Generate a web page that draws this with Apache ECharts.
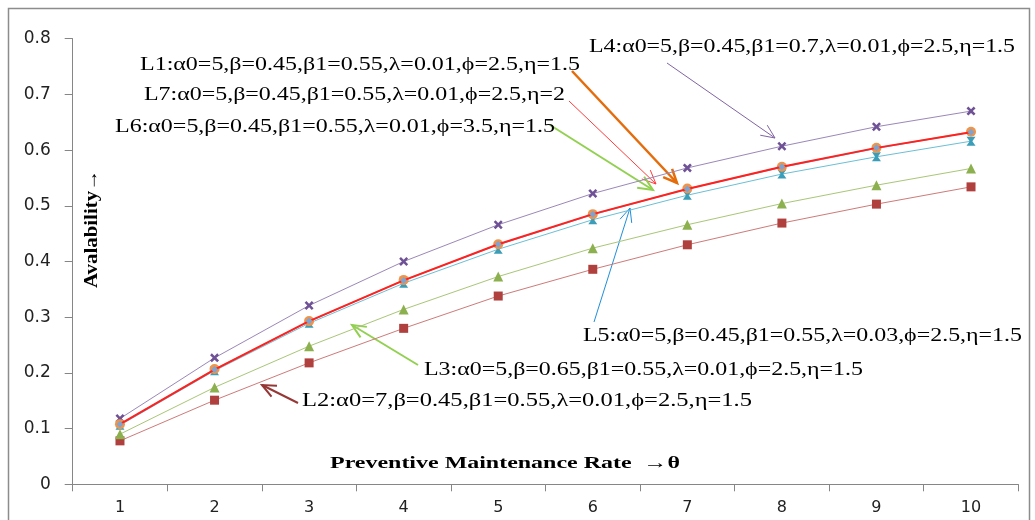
<!DOCTYPE html>
<html><head><meta charset="utf-8">
<script src="https://cdn.jsdelivr.net/npm/echarts@6/dist/echarts.min.js"></script>
<style>html,body{margin:0;padding:0;background:#fff}#c{width:1035px;height:520px}</style>
</head><body><div id="c"></div>
<script>
const categories = ['1','2','3','4','5','6','7','8','9','10'];
const L1 = [0.108,0.206,0.293,0.366,0.431,0.485,0.530,0.570,0.604,0.632];
const L2 = [0.078,0.151,0.218,0.280,0.338,0.386,0.430,0.469,0.503,0.534];
const L3 = [0.090,0.174,0.248,0.314,0.373,0.424,0.466,0.504,0.537,0.567];
const L4 = [0.118,0.227,0.321,0.400,0.466,0.522,0.568,0.607,0.642,0.670];
const L5 = [0.106,0.204,0.289,0.361,0.422,0.475,0.519,0.557,0.588,0.616];
const L6 = [0.108,0.207,0.293,0.367,0.431,0.485,0.531,0.570,0.604,0.633];
const L7 = [0.107,0.206,0.292,0.366,0.430,0.484,0.530,0.569,0.603,0.632];
const labelL1 = 'L1:α0=5,β=0.45,β1=0.55,λ=0.01,ϕ=2.5,η=1.5';
const labelL2 = 'L2:α0=7,β=0.45,β1=0.55,λ=0.01,ϕ=2.5,η=1.5';
const labelL3 = 'L3:α0=5,β=0.65,β1=0.55,λ=0.01,ϕ=2.5,η=1.5';
const labelL4 = 'L4:α0=5,β=0.45,β1=0.7,λ=0.01,ϕ=2.5,η=1.5';
const labelL5 = 'L5:α0=5,β=0.45,β1=0.55,λ=0.03,ϕ=2.5,η=1.5';
const labelL6 = 'L6:α0=5,β=0.45,β1=0.55,λ=0.01,ϕ=3.5,η=1.5';
const labelL7 = 'L7:α0=5,β=0.45,β1=0.55,λ=0.01,ϕ=2.5,η=2';
const xTitle = 'Preventive Maintenance Rate  →θ';
const yTitle = 'Avalability→';

const mctx = document.createElement('canvas').getContext('2d');
function stretchedText(str, x, y, targetW, font, color, extra) {
  mctx.font = font;
  const w = mctx.measureText(str).width;
  return Object.assign({
    type: 'text', x: x, y: y, scaleX: targetW / w, z: 100,
    style: { text: str, font: font, fill: color, textAlign: 'left', textVerticalAlign: 'middle' }
  }, extra || {});
}
function arrow(x1, y1, x2, y2, color, width, head) {
  const a = Math.atan2(y2 - y1, x2 - x1), s = 0.42;
  const p1 = [x2 - head * Math.cos(a - s), y2 - head * Math.sin(a - s)];
  const p2 = [x2 - head * Math.cos(a + s), y2 - head * Math.sin(a + s)];
  return { type: 'group', z: 100, children: [
    { type: 'line', shape: { x1: x1, y1: y1, x2: x2, y2: y2 }, style: { stroke: color, lineWidth: width } },
    { type: 'polyline', shape: { points: [p1, [x2, y2], p2] }, style: { stroke: color, lineWidth: width, fill: null } }
  ]};
}
const SERIF = '"Liberation Serif", "Times New Roman", serif';
const annFont = '18px ' + SERIF;
const crossPath = 'path://M2,0 L5,3 L8,0 L10,2 L7,5 L10,8 L8,10 L5,7 L2,10 L0,8 L3,5 L0,2 Z';
const plusPath = 'path://M4,0 H6 V4 H10 V6 H6 V10 H4 V6 H0 V4 H4 Z';
const starPath = 'path://M0,0 L10,0 L6.5,5 L10,10 L0,10 L3.5,5 Z';

function mkSeries(name, data, lineColor, lineW, symbol, symSize, symColor, z) {
  return { name: name, type: 'line', data: data, z: z, symbol: symbol, symbolSize: symSize,
    lineStyle: { color: lineColor, width: lineW }, itemStyle: { color: symColor, borderWidth: 0 } };
}

const chart = echarts.init(document.getElementById('c'), null, { renderer: 'canvas' });
chart.setOption({
  animation: false,
  backgroundColor: '#fff',
  grid: { left: 72.7, right: 16.7, top: 38.7, bottom: 35.7 },
  xAxis: { type: 'category', data: categories, boundaryGap: true,
    axisLine: { lineStyle: { color: '#868686', width: 1 } },
    axisTick: { show: true, length: 7, lineStyle: { color: '#868686' } },
    axisLabel: { color: '#222', fontFamily: 'DejaVu Sans', fontSize: 16, margin: 16 },
    splitLine: { show: false } },
  yAxis: { type: 'value', min: 0, max: 0.8, interval: 0.1,
    axisLine: { show: true, lineStyle: { color: '#868686', width: 1 } },
    axisTick: { show: true, length: 8, lineStyle: { color: '#868686' } },
    axisLabel: { color: '#222', fontFamily: 'DejaVu Sans', fontSize: 17, margin: 22 },
    splitLine: { show: false } },
  series: [
    mkSeries('L2', L2, '#CD7B79', 1, 'rect', 9, '#B0403D', 2),
    mkSeries('L3', L3, '#A9C677', 1, 'triangle', 10, '#8DB04F', 3),
    mkSeries('L4', L4, '#9B87B8', 1, crossPath, 9, '#6F5295', 4),
    mkSeries('L5', L5, '#6BBFD5', 1, starPath, 9, '#3B9DB8', 5),
    mkSeries('L7', L7, '#7EA0D0', 1, plusPath, 8, '#8FB0DC', 6),
    mkSeries('L1', L1, '#FF2020', 2, 'diamond', 7, '#7FA3D0', 7),
    mkSeries('L6', L6, '#F5A05A', 1, 'circle', 10, '#F0944A', 6.5)
  ],
  graphic: [
    { type: 'rect', z: 0, shape: { x: 8.5, y: 8.5, width: 1021, height: 530 },
      style: { stroke: '#8c8c8c', lineWidth: 1.5, fill: null } },
    stretchedText(labelL4, 589, 47, 426, annFont, '#000'),
    stretchedText(labelL1, 140, 65, 440, annFont, '#000'),
    stretchedText(labelL7, 144, 95, 421, annFont, '#000'),
    stretchedText(labelL6, 115, 127, 440, annFont, '#000'),
    stretchedText(labelL5, 583, 336, 439, annFont, '#000'),
    stretchedText(labelL3, 424, 370, 439, annFont, '#000'),
    stretchedText(labelL2, 302, 401, 450, annFont, '#000'),
    stretchedText(xTitle, 330, 464, 350, 'bold 17px ' + SERIF, '#000'),
    (function () {
      const t = stretchedText(yTitle, 0, 0, 118, 'bold 18px ' + SERIF, '#000');
      t.x = 92; t.y = 288; t.rotation = Math.PI / 2;
      return t;
    })(),
    arrow(667, 63, 775, 138, '#8064A2', 1, 15),
    arrow(572, 71, 677, 183, '#E46C0A', 2.5, 15),
    arrow(569, 101, 656, 184, '#FF3B3B', 1, 15),
    arrow(550, 125, 653, 190, '#92D050', 2, 16),
    arrow(594, 322, 630, 208, '#1F8FDB', 1, 15),
    arrow(418, 365, 352, 325, '#92D050', 2, 15),
    arrow(298, 403, 262, 385, '#953735', 2, 15)
  ]
});
</script></body></html>
